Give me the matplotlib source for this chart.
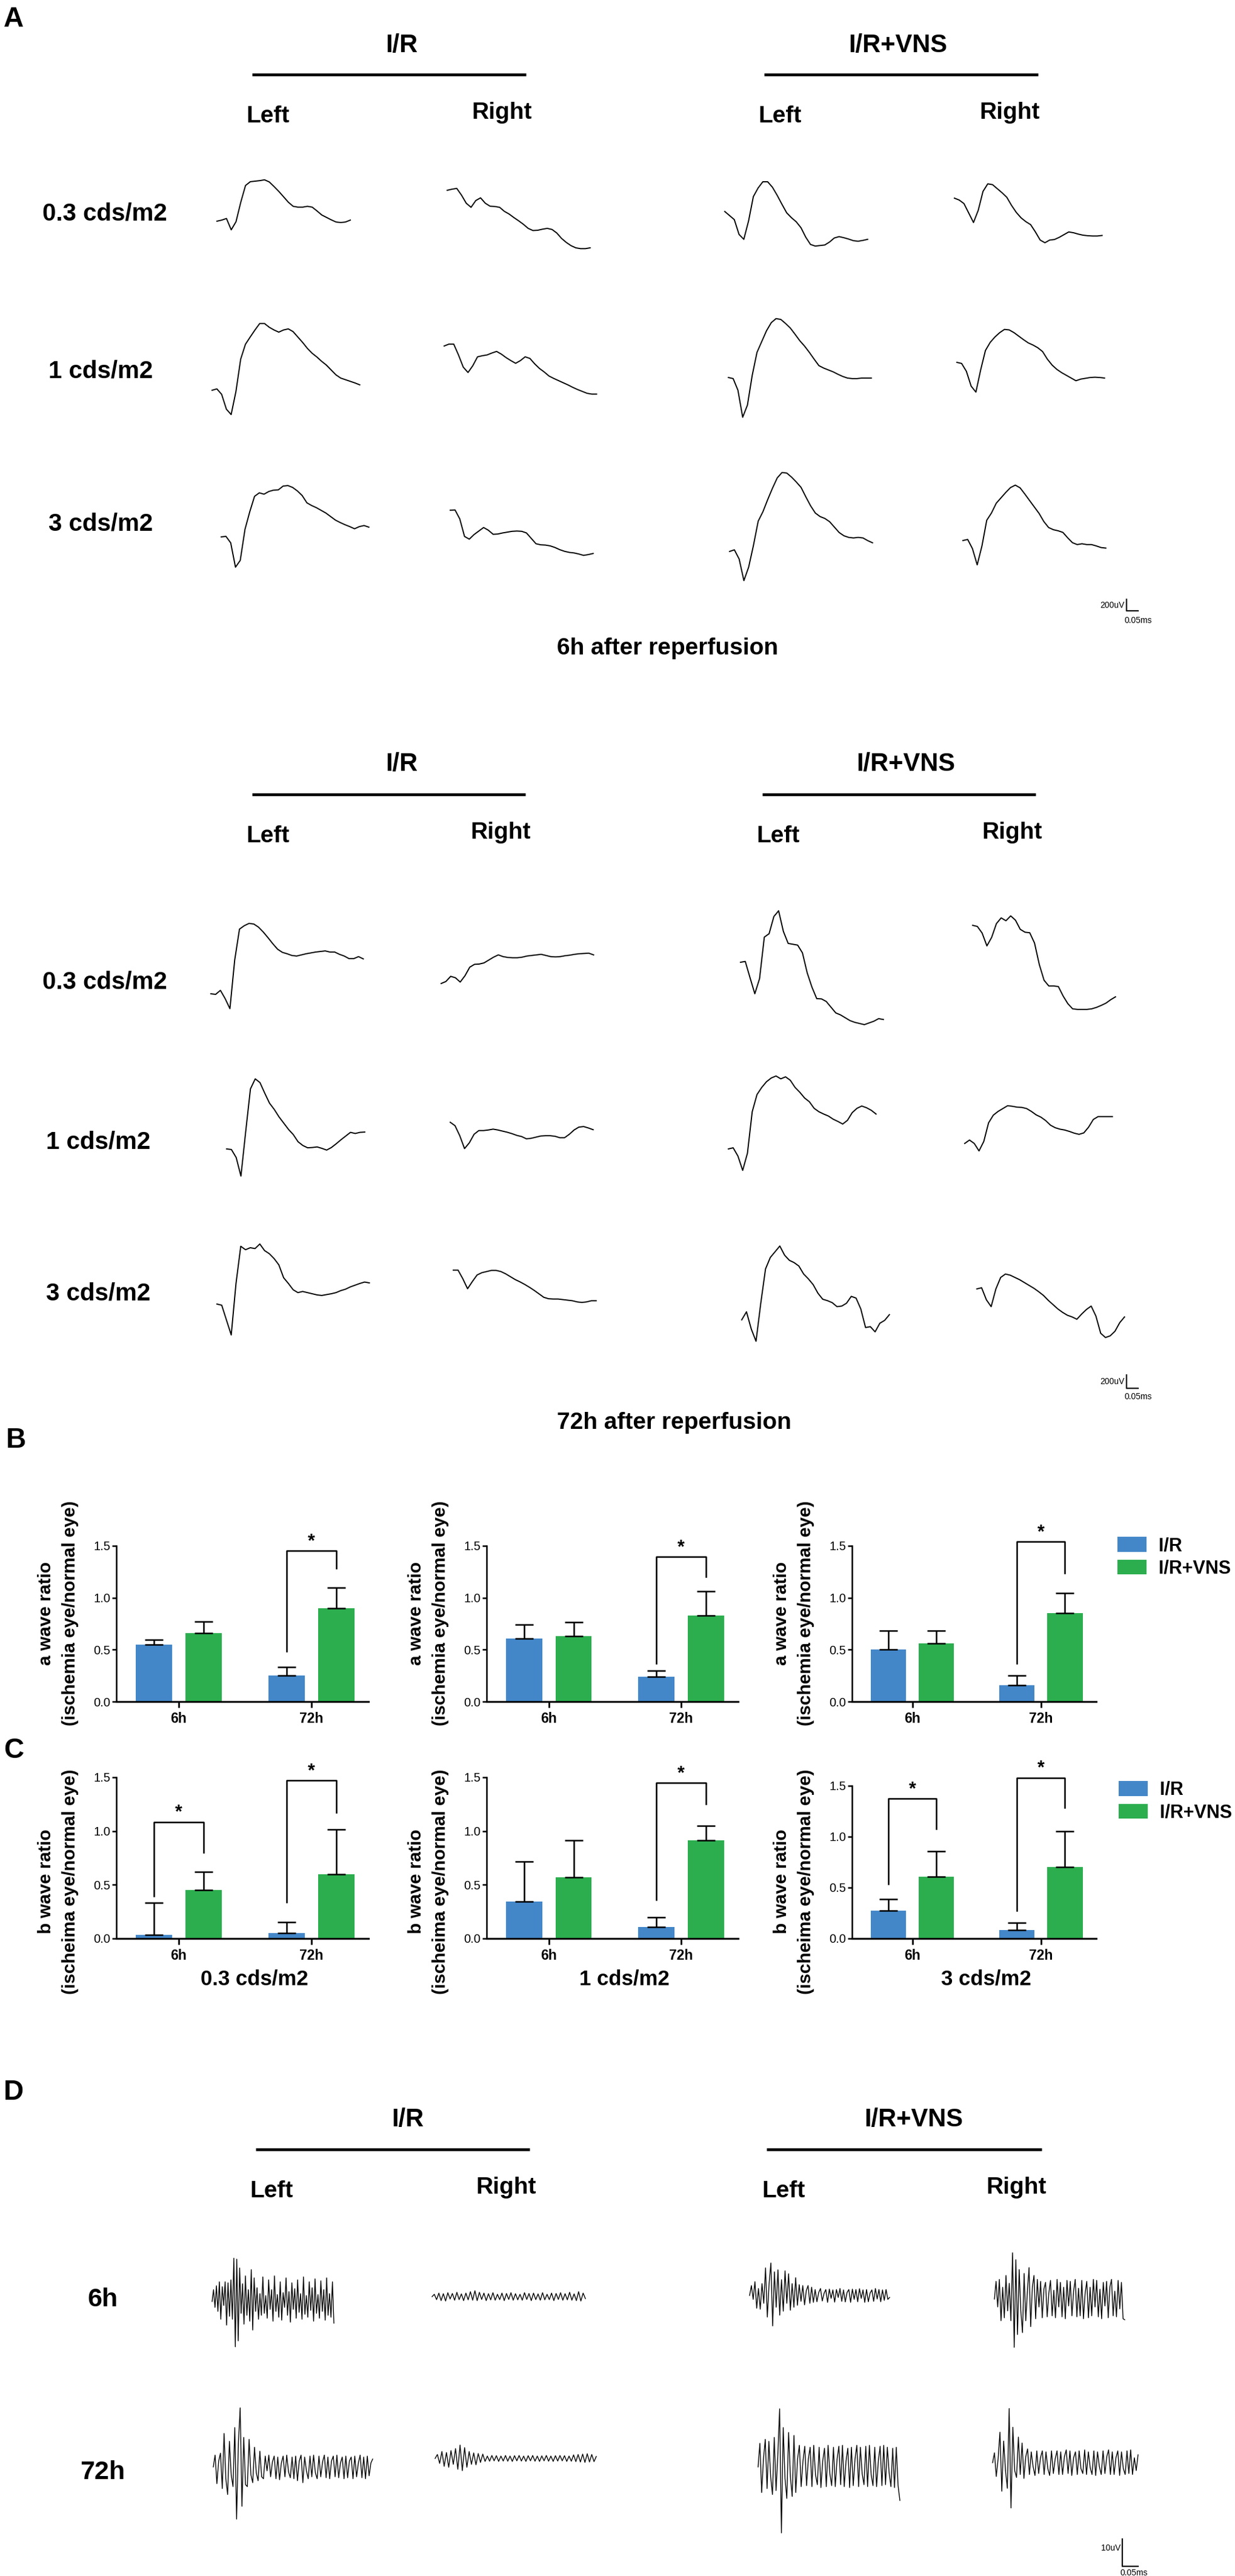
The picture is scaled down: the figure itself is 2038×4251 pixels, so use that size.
import numpy as np
import matplotlib.pyplot as plt

plt.rcParams['font.family'] = ['Liberation Sans', 'DejaVu Sans']
NARROW = ['Liberation Sans Narrow', 'Liberation Sans', 'DejaVu Sans']

W, H = 2038, 4251
BLUE = '#4387c9'
GREEN = '#2cae4f'

# ---------------- labels ----------------
treatments = ['I/R', 'I/R+VNS']
eyes = ['Left', 'Right']
intensities = ['0.3 cds/m2', '1 cds/m2', '3 cds/m2']
times = ['6h', '72h']

# ---------------- ERG traces, 6h (amplitude readings, up = positive) ----------------
erg6_ir_l_03 = [0, 4, 10, -32, -2, 70, 132, 146, 148, 150, 153, 145, 128, 110, 90, 70, 55, 52, 52, 55, 52, 38, 23, 14, 5, -3, -5, -3, 4]
erg6_ir_r_03 = [0, 4, 7, -18, -48, -63, -38, -28, -48, -59, -60, -63, -78, -88, -101, -113, -126, -141, -149, -148, -144, -141, -145, -158, -178, -193, -205, -213, -216, -216, -213]
erg6_vns_l_03 = [0, -15, -30, -85, -103, -35, 55, 87, 110, 110, 90, 60, 27, -5, -23, -38, -60, -95, -122, -128, -126, -124, -113, -98, -93, -97, -102, -108, -110, -107, -103]
erg6_vns_r_03 = [0, -7, -20, -55, -90, -45, 25, 53, 50, 35, 20, 3, -27, -53, -73, -87, -98, -125, -155, -165, -155, -153, -145, -135, -125, -128, -133, -137, -139, -140, -140, -138]
erg6_ir_l_1 = [0, 5, -15, -70, -90, -5, 115, 170, 197, 223, 247, 247, 233, 223, 215, 223, 227, 217, 197, 177, 155, 137, 123, 107, 93, 75, 57, 45, 39, 33, 27, 20]
erg6_ir_r_1 = [0, 7, 7, -33, -78, -98, -73, -40, -36, -33, -26, -20, -30, -43, -54, -64, -54, -40, -46, -66, -83, -96, -111, -120, -128, -136, -144, -153, -161, -168, -175, -178, -178]
erg6_vns_l_1 = [0, -4, -47, -147, -102, 8, 93, 133, 173, 203, 218, 215, 200, 183, 160, 136, 116, 93, 68, 44, 35, 28, 21, 12, 4, -2, -4, -4, -2, -2, -2]
erg6_vns_r_1 = [0, -4, -33, -88, -110, -28, 44, 74, 94, 110, 122, 120, 110, 97, 84, 72, 64, 54, 40, 12, -10, -26, -38, -48, -58, -68, -62, -59, -56, -55, -56, -58]
erg6_ir_l_3 = [0, 2, -22, -112, -87, 28, 93, 150, 163, 158, 168, 173, 174, 188, 190, 183, 170, 153, 126, 116, 108, 98, 88, 75, 62, 53, 45, 38, 30, 38, 42, 36]
erg6_ir_r_3 = [0, 1, -32, -97, -107, -90, -77, -64, -74, -89, -88, -84, -81, -78, -77, -78, -84, -104, -124, -128, -129, -132, -138, -146, -152, -156, -158, -162, -167, -164, -160]
erg6_vns_l_3 = [0, 6, -28, -108, -58, 22, 112, 147, 192, 234, 272, 292, 290, 275, 257, 237, 202, 169, 142, 129, 122, 110, 90, 70, 58, 52, 50, 52, 50, 40, 32]
erg6_vns_r_3 = [0, 4, -30, -90, -20, 75, 102, 138, 158, 178, 196, 205, 195, 172, 148, 124, 100, 70, 48, 40, 36, 30, 10, -8, -15, -12, -15, -15, -20, -26, -28]

# ---------------- ERG traces, 72h ----------------
erg72_ir_l_03 = [0, -2, 12, -17, -52, 118, 226, 238, 246, 244, 233, 216, 196, 175, 156, 145, 140, 134, 132, 136, 140, 143, 146, 148, 150, 146, 146, 138, 132, 123, 123, 130, 122]
erg72_ir_r_03 = [0, 7, 25, 20, 5, 27, 57, 67, 68, 72, 82, 92, 100, 94, 91, 90, 90, 92, 96, 98, 100, 102, 98, 94, 93, 94, 97, 99, 102, 104, 105, 106, 100]
erg72_vns_l_03 = [0, 3, -54, -110, -57, 88, 100, 160, 180, 108, 66, 63, 60, 33, -37, -87, -127, -128, -137, -157, -177, -184, -194, -204, -210, -214, -218, -212, -206, -197, -200]
erg72_vns_r_03 = [0, -4, -27, -72, -42, 6, 26, 16, 33, 18, -14, -24, -26, -62, -137, -192, -212, -212, -214, -247, -274, -292, -294, -294, -294, -292, -287, -280, -272, -260, -250]
erg72_ir_l_1 = [0, -2, -30, -95, 60, 210, 245, 232, 195, 160, 138, 112, 90, 68, 50, 25, 12, 4, 5, 7, 2, -4, 5, 18, 32, 45, 58, 54, 58, 59]
erg72_ir_r_1 = [0, -12, -47, -92, -72, -42, -29, -29, -27, -24, -27, -31, -35, -40, -46, -50, -58, -56, -52, -48, -47, -47, -49, -54, -54, -42, -27, -17, -15, -20, -26]
erg72_vns_l_1 = [0, 4, -25, -75, -15, 130, 190, 215, 235, 248, 255, 245, 252, 240, 215, 198, 178, 165, 142, 130, 122, 115, 104, 96, 87, 100, 127, 142, 150, 144, 135, 122]
erg72_vns_r_1 = [0, 12, 0, -26, 7, 72, 99, 112, 122, 132, 130, 127, 126, 122, 112, 100, 92, 80, 64, 55, 50, 47, 42, 36, 32, 37, 57, 84, 94, 94, 94, 94]
erg72_ir_l_3 = [0, -4, -56, -108, 72, 202, 190, 197, 194, 210, 187, 176, 159, 137, 92, 72, 50, 40, 44, 40, 36, 32, 30, 33, 36, 40, 47, 52, 60, 66, 72, 77, 74]
erg72_ir_r_3 = [0, 0, -30, -65, -40, -17, -9, -5, -1, -1, -5, -13, -23, -33, -41, -50, -60, -71, -83, -95, -100, -101, -101, -103, -105, -107, -111, -113, -111, -107, -107]
erg72_vns_l_3 = [0, 28, -32, -75, 58, 178, 218, 238, 258, 226, 208, 200, 188, 160, 143, 123, 93, 72, 67, 60, 46, 48, 58, 82, 76, 38, -27, -24, -42, -12, -2, 18]
erg72_vns_r_3 = [0, 4, -38, -62, 0, 40, 52, 48, 40, 32, 22, 12, 2, -10, -23, -40, -55, -70, -82, -92, -98, -106, -88, -72, -60, -95, -155, -170, -164, -148, -118, -98]

# ---------------- oscillatory potentials (turning points) ----------------
op6_ir_l = [0, 60, -30, 80, -50, 100, -90, 75, -20, 100, -120, 95, -75, 110, -90,
            220, -230, 215, -200, 170, -60, 90, -115, 130, -70, 60, -100, 162, -145, 120,
            -50, 70, -90, 40, -70, 125, -60, 30, -85, 110, -40, 60, -100, 130, -50,
            35, -80, 100, -95, 45, -30, 120, -70, 50, -105, 95, -40, 65, -85, 110,
            -55, 40, -90, 125, -65, 30, -80, 100, -45, 70, -100, 115, -60, 35, -85,
            105, -50, 60, -95, 120, -70, 40, -80, 100, -110]
op6_ir_r = [0, 12, -15, 18, -20, 15, -22, 20, -12, 16, -18, 22, -15, 14, -20, 18, -16, 25, -18, 30, -20, 22, -14, 18, -20, 15, -16, 20, -18, 12, -15, 18, -20, 16, -14, 20, -18, 15, -16, 12, -18, 20, -14, 16, -20, 18, -15, 14, -18, 20, -16, 12, -15, 18, -20, 16, -14, 20, -18, 15, -16, 22, -18, 14, -20, 25, -22, 18, -10]
op6_vns_l = [0, 50, -20, 70, -65, 35, -70, 60, -40,
             140, -110, 60, 165, -155, 120, -60, 130, -100, 80,
             -80, 125, -40, 110, -75, 60, -60, 90, -50,
             55, -30, 50, -48, 25, 50, -40, 42, -35,
             30, -32, 15, 35, -28, 10, 30, -35, 32, -15, 28, -34, 30, -10, 35, -30, 28, -33, 15, 30,
             -35, 32, -20, 30, -32, 34, -15, 28, -35, 30, -32, 12, 28, -30, 35, -18, 30, -32, 28, -25, 30, -20, -10]
op6_vns_r = [0, 90, -40, 100, -110, 60, -95, 120, -60, 80,
             -110, 235, -245, 200, -180,
             150, -60, -170, 130, -110, 40, 160, -140, 60, 120, -100,
             100, -40, 90, -95, 50, 85, -90, 30, 95, -85, 45, -95, 100, -40, 85, -90, 60, -100,
             95, -35, 90, -85, 40, 100, -90, 55, -85, 95, -100, 30, 90, -95, 60, -85, 100, -40,
             95, -90, 50, -100, 85, -35, 90, -95, 60, 100, -85, 40, -90, 95, -50, 85, -100, -105]
op72_ir_l = [0, 60, -85, 30, 70,
             -110, 170, -60, -140, 130, -40, -100,
             200, -265, 120, 300, -200, 150, -90,
             -100, 140, -40, -80, 100, -30, -70, 80, -50,
             -60, 55, -20, 60, -50, 25, 55, -60, 50, -65, 20, 55, -50, 60, -25, -55, 50, -60, 55, -70,
             30, 60, -80, 50, -20, -60, 55, -50, 60, -30, -60, 55, -50, 25, 60, -55, 50, -60, 30, 55,
             -50, 60, -55, 20, 50, -60, 55, -55, 30, 50, -60, 55, -50, 20, 60, -55, 50, -60, 55, -45, 20, 40]
op72_ir_r = [0, 20, -25, 35, -40, 30, -45, 40, -30, 50, -55, 68, -62, 55, -45, 35, -30, 28, -32, 25, -20, 22, -15, 12, -14, 15, -12, 14, -15, 12, -13, 15, -14, 12, -15, 14, -12, 15, -13, 12, -15, 14, -12, 15, -14, 12, -15, 13, -12, 15, -14, 12, -15, 14, -13, 15, -12, 14, -15, 12, -14, 18, -16, 20, -18, 22, -20, 24, -18, 20, -16, 10]
op72_vns_l = [0, 120, -130, 40, 140, -110, 130, -50, -140, 150, -120, 60,
              295, -335, 200, -60,
              -160, 175, -50, -150, 160, -130, 40,
              110, -100, 30, 105, -95, 40, 100, -100, 110, -40, -90, 100, -105, 30, 95, -100, 110, -35, -95,
              100, -100, 40, 105, -90, 110, -100, 30, 95, -105, 100, -95, 40, 110, -100, 100, -35, -90,
              105, -100, 110, -40, -95, 100, -100, 30, 105, -95, 110, -90, 100, -30, -100, 95, -105, 100, -95, -170]
op72_vns_r = [0, 50, -70, 20, 155, -145, 110, -40,
              -130, 275, -230, 180, -40,
              -75, 130, -60, 100, -80, 30, 70, -60,
              55, -20, -65, 60, -55, 25, 60, -60, 55, -30, -65, 60, -55, 20, 60, -60, 55, -60, 30, 65,
              -55, 60, -65, 25, 55, -60, 60, -30, -55, 65, -60, 55, -25, -60, 60, -65, 55, -20, -60, 60,
              -55, 30, 65, -60, 55, -60, 25, 60, -65, 55, -30, -60, 60, -55, 65, -60, 25, -40, 40]

# ---------------- bar chart data (ratio ischemic / normal eye) ----------------
a03_ir, a03_ir_err = [0.548, 0.250], [0.047, 0.081]
a03_vns, a03_vns_err = [0.657, 0.897], [0.113, 0.201]
a1_ir, a1_ir_err = [0.605, 0.240], [0.136, 0.055]
a1_vns, a1_vns_err = [0.631, 0.827], [0.133, 0.235]
a3_ir, a3_ir_err = [0.500, 0.158], [0.184, 0.092]
a3_vns, a3_vns_err = [0.560, 0.853], [0.124, 0.192]
b03_ir, b03_ir_err = [0.036, 0.052], [0.295, 0.101]
b03_vns, b03_vns_err = [0.453, 0.598], [0.168, 0.416]
b1_ir, b1_ir_err = [0.344, 0.107], [0.370, 0.093]
b1_vns, b1_vns_err = [0.569, 0.915], [0.342, 0.136]
b3_ir, b3_ir_err = [0.276, 0.085], [0.113, 0.067]
b3_vns, b3_vns_err = [0.606, 0.700], [0.249, 0.356]

# significance brackets: (group, left foot, top, right foot)
a03_sig = [(1, 0.483, 1.453, 1.286)]
a1_sig = [(1, 0.365, 1.396, 1.205)]
a3_sig = [(1, 0.368, 1.540, 1.237)]
b03_sig = [(0, 0.393, 1.085, 0.800), (1, 0.340, 1.470, 1.173)]
b1_sig = [(1, 0.359, 1.448, 1.253)]
b3_sig = [(0, 0.533, 1.376, 1.080), (1, 0.276, 1.579, 1.283)]

fig = plt.figure(figsize=(W / 100, H / 100), dpi=100)
fig.patch.set_facecolor('white')

# full-page layer in pixel units for the headings and scale bars
lay = fig.add_axes([0, 0, 1, 1])
lay.set_xlim(0, W)
lay.set_ylim(H, 0)
lay.axis('off')


def txt(x, y, s, size, ha='center', weight='bold', **kw):
    lay.text(x, y, s, ha=ha, va='baseline', fontsize=size, fontweight=weight, **kw)


def header(title_y, line_y, eye_y, title_x, lines, eye_x):
    for name, tx, (x1, x2) in zip(treatments, title_x, lines):
        txt(tx, title_y, name, 30)
        lay.plot([x1, x2], [line_y, line_y], color='black', lw=3.3, solid_capstyle='butt')
    for i, ex in enumerate(eye_x):
        txt(ex, eye_y[i % 2], eyes[i % 2], 28)


def scale_bar(x, y_top, y_bot, x_end, label_v, base_v, base_h):
    lay.plot([x, x, x_end], [y_top, y_bot, y_bot], color='black', lw=1.6)
    txt(x - 3, base_v, label_v, 10, ha='right', weight='normal')
    txt(x + 19, base_h, '0.05ms', 10, weight='normal')


def draw_trace(vals, x0, y0, kx, ky, lw):
    v = np.asarray(vals, dtype=float)
    n = len(v)
    lo, hi = v.min(), v.max()
    ax = fig.add_axes([x0 / W, 1 - (y0 - lo * ky) / H, (n - 1) * kx / W, (hi - lo) * ky / H])
    ax.plot(np.arange(n), v, color='black', lw=lw, clip_on=False)
    ax.set_xlim(0, n - 1)
    ax.set_ylim(lo, hi)
    ax.axis('off')


# ---------------- panel A ----------------
txt(6, 44, 'A', 33, ha='left')
header(86, 123, (202, 196), (663, 1482), [(416, 868), (1261, 1713)], (442, 828, 1287, 1666))
for name, x, y in zip(intensities, (173, 166, 166), (363, 623, 876)):
    txt(x, y, name, 29)

erg6 = [erg6_ir_l_03, erg6_ir_r_03, erg6_vns_l_03, erg6_vns_r_03,
        erg6_ir_l_1, erg6_ir_r_1, erg6_vns_l_1, erg6_vns_r_1,
        erg6_ir_l_3, erg6_ir_r_3, erg6_vns_l_3, erg6_vns_r_3]
erg6_pos = [(358, 365), (738, 314), (1196, 349), (1575, 327),
            (350, 644), (733, 571), (1202, 623), (1579, 598),
            (365, 886), (743, 842), (1204, 910), (1589, 892)]
for vals, (x0, y0) in zip(erg6, erg6_pos):
    draw_trace(vals, x0, y0, 7.86, 0.446, 1.4)
scale_bar(1859, 989, 1008, 1878, '200uV', 1003, 1028)
txt(1102, 1080, '6h after reperfusion', 28)

header(1272, 1311, (1390, 1384), (663, 1495), [(416, 867), (1258, 1709)], (442, 826, 1284, 1670))
for name, x, y in zip(intensities, (173, 162, 162), (1632, 1896, 2146)):
    txt(x, y, name, 29)

erg72 = [erg72_ir_l_03, erg72_ir_r_03, erg72_vns_l_03, erg72_vns_r_03,
         erg72_ir_l_1, erg72_ir_r_1, erg72_vns_l_1, erg72_vns_r_1,
         erg72_ir_l_3, erg72_ir_r_3, erg72_vns_l_3, erg72_vns_r_3]
erg72_pos = [(348, 1640), (728, 1623), (1222, 1588), (1605, 1527),
             (374, 1896), (743, 1852), (1202, 1896), (1592, 1887),
             (358, 2152), (748, 2096), (1224, 2178), (1612, 2127)]
for vals, (x0, y0) in zip(erg72, erg72_pos):
    draw_trace(vals, x0, y0, 7.86, 0.472, 1.4)
scale_bar(1859, 2269, 2291, 1878, '200uV', 2284, 2309)
txt(1112, 2358, '72h after reperfusion', 28)


# ---------------- panels B and C ----------------
OFF, BW = 0.187, 0.274


def bar_chart(box, ymax, ir, ir_err, vns, vns_err, sig):
    left, right, top, bottom = box
    ax = fig.add_axes([left / W, 1 - bottom / H, (right - left) / W, (bottom - top) / H])
    ax.patch.set_visible(False)
    x = np.arange(len(times))
    ax.bar(x - OFF, ir, BW, color=BLUE, label=treatments[0], zorder=2)
    ax.bar(x + OFF, vns, BW, color=GREEN, label=treatments[1], zorder=2)
    for xs, m, e in ((x - OFF, ir, ir_err), (x + OFF, vns, vns_err)):
        ax.errorbar(xs, m, yerr=[np.zeros(len(e)), e], fmt='none', ecolor='black',
                    elinewidth=1.8, capsize=10.8, capthick=1.8, zorder=3)
    for g, foot_l, hi, foot_r in sig:
        ax.plot([g - OFF, g - OFF, g + OFF, g + OFF], [foot_l, hi, hi, foot_r],
                color='black', lw=1.8, clip_on=False)
        ax.annotate('*', (g, hi), xytext=(0, 0), textcoords='offset points',
                    ha='center', va='bottom', fontsize=22, fontweight='bold',
                    annotation_clip=False)
    ax.set_xlim(-0.47, 1.43)
    ax.set_ylim(0, ymax)
    for s in ('top', 'right'):
        ax.spines[s].set_visible(False)
    ax.spines['left'].set_bounds(0, 1.5)
    ax.spines['left'].set_linewidth(1.8)
    ax.spines['bottom'].set_linewidth(2.2)
    ax.set_yticks([0, 0.5, 1.0, 1.5])
    ax.set_yticklabels(['0.0', '0.5', '1.0', '1.5'], fontsize=14.5, family=NARROW)
    ax.set_xticks(x)
    ax.set_xticklabels(times, fontsize=16.5, fontweight='bold', family=NARROW)
    ax.tick_params(axis='y', length=5, width=1.8, pad=2)
    ax.tick_params(axis='x', length=7, width=2, pad=5)
    return ax


cols = [(192, 608), (803, 1218), (1406, 1809)]

txt(10, 2389, 'B', 33, ha='left')
a_sets = [(a03_ir, a03_ir_err, a03_vns, a03_vns_err, a03_sig),
          (a1_ir, a1_ir_err, a1_vns, a1_vns_err, a1_sig),
          (a3_ir, a3_ir_err, a3_vns, a3_vns_err, a3_sig)]
for (l, r), d in zip(cols, a_sets):
    axb = bar_chart((l, r, 2551, 2808), 1.5, *d)
    lay.text(l - 96, 2662, 'a wave ratio\n(ischemia eye/normal eye)', rotation=90,
             ha='center', va='center', ma='center', fontsize=21.5, fontweight='bold', linespacing=1.55)
axb.legend(loc='upper left', bbox_to_anchor=(1844 / W, 1 - 2536 / H), bbox_transform=fig.transFigure,
           frameon=False, prop={'size': 22, 'weight': 'bold', 'family': NARROW},
           handlelength=1.57, handleheight=0.85, handletextpad=0.65, labelspacing=0.25,
           borderpad=0, borderaxespad=0)

txt(6, 2901, 'C', 33, ha='left')
b_sets = [(b03_ir, b03_ir_err, b03_vns, b03_vns_err, b03_sig),
          (b1_ir, b1_ir_err, b1_vns, b1_vns_err, b1_sig),
          (b3_ir, b3_ir_err, b3_vns, b3_vns_err, b3_sig)]
b_tops = [(2933, 1.5), (2933, 1.5), (2926, 1.625)]
for (l, r), d, (top, ymax), name in zip(cols, b_sets, b_tops, intensities):
    axc = bar_chart((l, r, top, 3199), ymax, *d)
    lay.text(l - 96, 3105, 'b wave ratio\n(ischeima eye/normal eye)', rotation=90,
             ha='center', va='center', ma='center', fontsize=21.5, fontweight='bold', linespacing=1.55)
    txt((l + r) / 2 + 20, 3276, name, 25)
axc.legend(loc='upper left', bbox_to_anchor=(1846 / W, 1 - 2939 / H), bbox_transform=fig.transFigure,
           frameon=False, prop={'size': 22, 'weight': 'bold', 'family': NARROW},
           handlelength=1.57, handleheight=0.85, handletextpad=0.65, labelspacing=0.25,
           borderpad=0, borderaxespad=0)

# ---------------- panel D ----------------
txt(6, 3465, 'D', 33, ha='left')
header(3509, 3547, (3626, 3620), (673, 1508), [(422, 874), (1265, 1719)], (448, 835, 1293, 1677))
for name, y in zip(times, (3806, 4091)):
    txt(169, y, name, 31)

ops = [op6_ir_l, op6_ir_r, op6_vns_l, op6_vns_r, op72_ir_l, op72_ir_r, op72_vns_l, op72_vns_r]
op_pos = [(350, 3798, 201), (713, 3790, 253), (1237, 3788, 231), (1641, 3794, 215),
          (352, 4071, 263), (718, 4057, 266), (1251, 4071, 234), (1638, 4064, 240)]
for vals, (x0, y0, wd) in zip(ops, op_pos):
    draw_trace(vals, x0, y0, wd / (len(vals) - 1), 0.325, 1.0)
scale_bar(1852, 4190, 4235, 1878, '10uV', 4209, 4250)

fig.savefig('out.png', dpi=100, facecolor='white')
